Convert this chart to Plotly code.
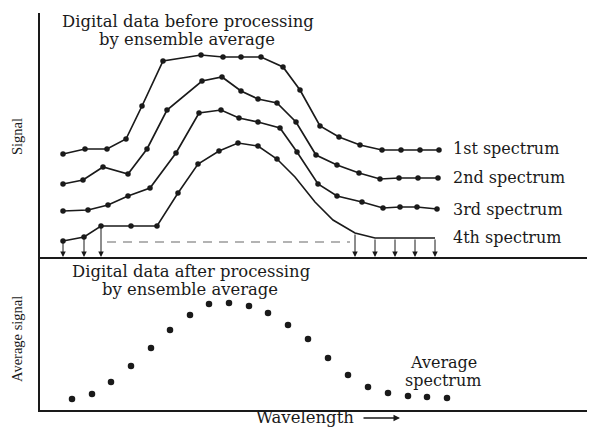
import plotly.graph_objects as go

# ---- data (arbitrary units) ----
s1_x = [23, 45, 67, 86, 102, 123, 161, 183, 201, 221, 243, 260, 280, 299, 320, 342, 361, 380, 399]
s1_y = [103, 108, 108, 118, 151, 196, 202, 200, 200, 200, 190, 167, 131, 120, 112, 107, 107, 107, 107]

s2_x = [23, 43, 63, 88, 107, 127, 162, 182, 201, 218, 237, 256, 276, 297, 319, 340, 359, 378, 398]
s2_y = [73, 77, 90, 83, 108, 147, 176, 180, 166, 158, 154, 135, 102, 92, 84, 78, 79, 79, 79]

s3_x = [23, 48, 68, 88, 110, 136, 159, 181, 199, 218, 240, 257, 278, 297, 322, 343, 360, 377, 397]
s3_y = [46, 47, 52, 61, 69, 104, 144, 147, 139, 135, 129, 105, 73, 61, 55, 49, 50, 50, 48]

s4_x = [23, 44, 61, 91, 117, 138, 158, 179, 198, 218, 237, 255, 275, 293, 315, 335, 355, 375, 395]
s4_y = [16, 20, 31, 31, 31, 64, 93, 106, 114, 111, 98, 80, 55, 37, 24, 19, 19, 19, 19]
s4_n_dotted = 11
s4_arrow_idx = [0, 1, 2, 14, 15, 16, 17, 18]

dash_x = [67, 310]
dash_y = [15, 15]

avg_x = [32, 52, 71, 91, 111, 130, 150, 169, 189, 209, 228, 248, 268, 288, 308, 328, 348, 368, 387, 407]
avg_y = [11, 16, 28, 44, 62, 80, 95, 106, 107, 104, 97, 85, 71, 52, 35, 23, 17, 14, 13, 12]

spec_labels = ["1st spectrum", "2nd spectrum", "3rd spectrum", "4th spectrum"]

# ---- figure geometry (page body adds an 8px offset) ----
OFF = 8
W, H = 595 - OFF, 427 - OFF
ML = 40 - OFF
PW = W - ML                 # plot area width
PH = 410 - OFF              # plot area height (bottom axis at reference y=410)
MB = H - PH


def px(xp):
    return (xp - OFF - ML) / PW


def py(yp):
    return (PH - (yp - OFF)) / PH


INK = "#1a1a1a"
FONT = "DejaVu Serif"

fig = go.Figure()

for xs, ys in [(s1_x, s1_y), (s2_x, s2_y), (s3_x, s3_y)]:
    fig.add_trace(go.Scatter(x=xs, y=ys, mode="lines+markers", xaxis="x", yaxis="y",
                             line=dict(color=INK, width=1.7),
                             marker=dict(color=INK, size=5.5), showlegend=False,
                             hoverinfo="skip"))

fig.add_trace(go.Scatter(x=s4_x, y=s4_y, mode="lines", xaxis="x", yaxis="y",
                         line=dict(color=INK, width=1.6),
                         showlegend=False, hoverinfo="skip"))
fig.add_trace(go.Scatter(x=s4_x[:s4_n_dotted], y=s4_y[:s4_n_dotted], mode="markers",
                         xaxis="x", yaxis="y", marker=dict(color=INK, size=5.5),
                         showlegend=False, hoverinfo="skip"))

fig.add_trace(go.Scatter(x=dash_x, y=dash_y, mode="lines", xaxis="x", yaxis="y",
                         line=dict(color="#9a9a9a", width=1.6, dash="9px,7px"),
                         showlegend=False, hoverinfo="skip"))

fig.add_trace(go.Scatter(x=avg_x, y=avg_y, mode="markers", xaxis="x2", yaxis="y2",
                         marker=dict(color=INK, size=6.5), showlegend=False,
                         hoverinfo="skip"))

annotations = []
# arrows from 4th spectrum down to the baseline
for i in s4_arrow_idx:
    annotations.append(dict(x=s4_x[i], y=0, ax=s4_x[i], ay=s4_y[i],
                            xref="x", yref="y", axref="x", ayref="y",
                            showarrow=True, arrowhead=2, arrowsize=1.1,
                            arrowwidth=1, arrowcolor=INK, text=""))


def txt(t, xp, yp, size=16, anchor="center", angle=0, family=FONT):
    annotations.append(dict(text=t, x=px(xp), y=py(yp), xref="paper", yref="paper",
                            showarrow=False, xanchor=anchor, yanchor="middle",
                            textangle=angle,
                            font=dict(family=family, size=size, color=INK)))


txt("Digital data before processing", 188, 21.5, size=16.4)
txt("by ensemble average", 187, 39, size=16.4)
txt("Digital data after processing", 191, 271.5, size=16.4)
txt("by ensemble average", 190, 289.5, size=16.4)
txt("Average", 443, 362, size=16)
txt("spectrum", 443, 380.5, size=16)
for lab, yy in zip(spec_labels, [148, 177, 209, 238]):
    txt(lab, 451, yy, size=16, anchor="left")
txt("Wavelength", 305, 418, size=16.5)
txt("Signal", 17, 137, size=14.5, angle=-90, family="Liberation Serif")
txt("Average signal", 17, 339, size=14.5, angle=-90, family="Liberation Serif")

# wavelength arrow
annotations.append(dict(x=px(400), y=py(418), ax=-38, ay=0, xref="paper", yref="paper",
                        showarrow=True, arrowhead=2, arrowsize=1, arrowwidth=1.3,
                        arrowcolor=INK, text=""))

axis_common = dict(showgrid=False, zeroline=False, showticklabels=False, ticks="",
                   showline=True, linecolor=INK, linewidth=1.5, mirror=False,
                   fixedrange=True)

fig.update_layout(
    width=W, height=H,
    margin=dict(l=ML, r=0, t=0, b=MB, autoexpand=False),
    paper_bgcolor="white", plot_bgcolor="white",
    xaxis=dict(domain=[0, 1], range=[0, 555], anchor="y", **axis_common),
    yaxis=dict(domain=[py(257), py(13)], range=[0, 257 - 13], anchor="x", **axis_common),
    xaxis2=dict(domain=[0, 1], range=[0, 555], anchor="y2", **axis_common),
    yaxis2=dict(domain=[0, py(257)], range=[0, 410 - 257], anchor="x2", **axis_common),
    annotations=annotations,
)

fig.write_html("out.html")
